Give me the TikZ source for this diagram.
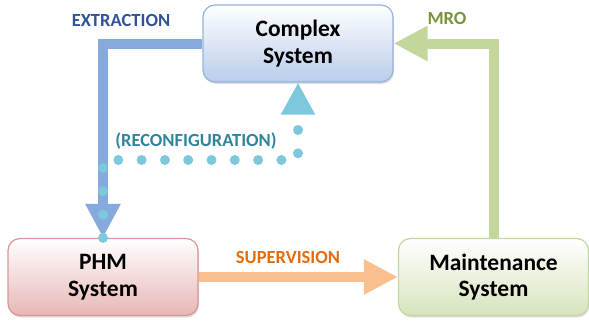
\documentclass[tikz,border=0pt]{standalone}
\usepackage{fontspec}
\setmainfont{Carlito}
\usetikzlibrary{arrows.meta,shadows}
\definecolor{extline}{RGB}{135,170,222}
\definecolor{exttext}{RGB}{47,84,150}
\definecolor{mroline}{RGB}{195,214,155}
\definecolor{mrotext}{RGB}{119,147,60}
\definecolor{supline}{RGB}{250,191,143}
\definecolor{suptext}{RGB}{228,108,10}
\definecolor{recline}{RGB}{125,200,220}
\definecolor{rectext}{RGB}{49,133,155}
\definecolor{csedge}{RGB}{149,179,215}
\definecolor{csfill}{RGB}{185,205,235}
\definecolor{phmedge}{RGB}{217,150,148}
\definecolor{phmfill}{RGB}{232,182,182}
\definecolor{msfill}{RGB}{215,228,189}
\begin{document}
\begin{tikzpicture}[x=1pt,y=-1pt,
    sysbox/.style={draw,line width=1.2pt,rounded corners=12pt,minimum width=190pt,
      minimum height=77pt,align=center,font=\bfseries\fontsize{23.5}{26.5}\selectfont,
      drop shadow={shadow xshift=1pt,shadow yshift=-2pt,opacity=0.25}},
    flow/.style={line width=10pt,-{Triangle[width=33pt,length=34pt]}},
    lbl/.style={font=\bfseries\fontsize{18.5}{20}\selectfont}]
    \useasboundingbox (0,0) rectangle (589,324);
    \node[sysbox,draw=csedge,top color=white,bottom color=csfill] (CS) at (298,43.5) {Complex\\System};
    \node[sysbox,draw=phmedge,top color=white,bottom color=phmfill] (PHM) at (103,277) {PHM\\System};
    \node[sysbox,draw=mroline,top color=white,bottom color=msfill] (MS) at (493.5,277) {Maintenance\\System};
    \coordinate (bend) at (103,160);
    \draw[flow,extline] (CS.west) -| (PHM.north);
    \draw[flow,mroline] (MS.north) |- (CS.east);
    \draw[flow,supline] (PHM.east) -- (MS.west);
    \draw[recline,line width=10pt,line cap=round,dash pattern=on 0pt off 23.3pt,
      -{Triangle[width=32pt,length=32pt]}] (PHM.north) -- (bend) -| (CS.south);
    \node[lbl,text=exttext] (ext) at (121,20) {EXTRACTION};
    \node[lbl,text=mrotext] (mro) at (447,18) {MRO};
    \node[lbl,text=suptext] (sup) at (288,257) {SUPERVISION};
    \node[lbl,text=rectext] (rec) at (196,141) {(RECONFIGURATION)};
\end{tikzpicture}
\end{document}
